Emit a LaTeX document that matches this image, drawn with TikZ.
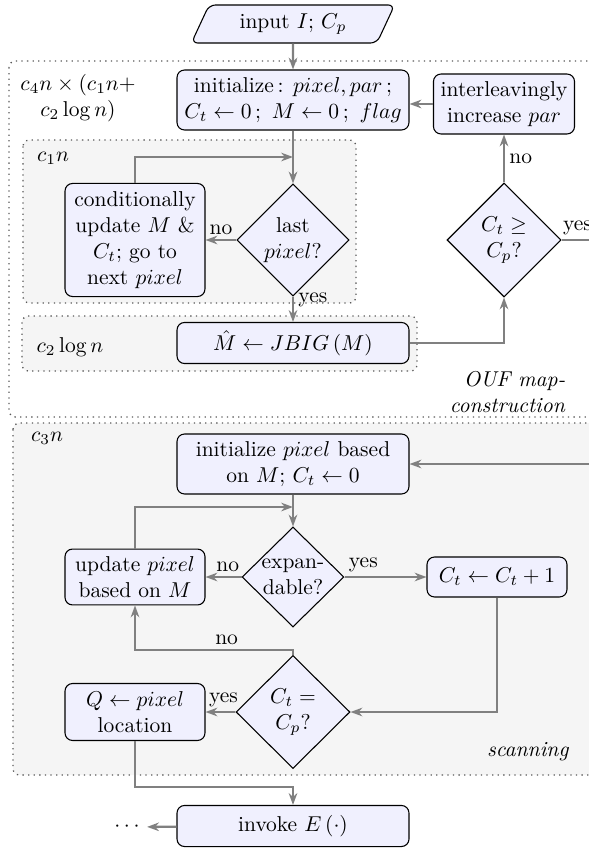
\documentclass[tikz,border=0pt]{standalone}
\usetikzlibrary{shapes.geometric, arrows.meta}
\definecolor{boxfill}{RGB}{240,240,254}
\definecolor{regfill}{RGB}{245,245,245}
\definecolor{linegray}{RGB}{128,128,128}
\begin{document}
\begin{tikzpicture}[x=0.4651pt, y=-0.4651pt,
  box/.style={draw=black, line width=0.5pt, rounded corners=3.5pt, fill=boxfill, align=center, inner sep=1pt},
  dia/.style={draw=black, line width=0.5pt, diamond, fill=boxfill, inner sep=0pt},
  dtext/.style={align=center, inner sep=0pt},
  region/.style={draw=black!65, dotted, line width=0.6pt, rounded corners=3pt, fill=regfill},
  flow/.style={draw=linegray, line width=1.1pt, -{Stealth[length=5.5pt,width=4pt]}},
  conn/.style={draw=linegray, line width=1.1pt},
  lbl/.style={inner sep=2pt}
]
\useasboundingbox (0,0) rectangle (589,850);
\clip (0,0) rectangle (589,850);

% regions
\draw[region, fill=none] (9,61) rectangle (640,417);
\draw[region] (23,140) rectangle (356,303);
\draw[region] (22,316) rectangle (417,371);
\draw[region] (13,423) rectangle (640,775);

% region labels
\node[align=center] (lc4) at (78,98) {$c_4n\times(c_1n+$\\$c_2\log n)$};
\node (lc1) at (53,158) {$c_1n$};
\node (lc2) at (70,347) {$c_2\log n$};
\node[anchor=east, align=right] (louf) at (573,392) {\textit{OUF map-}\\\textit{construction}};
\node (lc3) at (47,438) {$c_3n$};
\node (lscan) at (528,752) {\textit{scanning}};

% nodes
\node[trapezium, trapezium left angle=65, trapezium right angle=115, trapezium stretches=true,
      draw=black, line width=0.5pt, fill=boxfill, rounded corners=3pt,
      minimum width=94.9pt, minimum height=17.7pt, inner sep=1pt] (in) at (293,24) {input $I$; $C_p$};
\node[box, minimum width=107.9pt, minimum height=27.9pt] (init) at (293,100)
  {initialize\,: $pixel, par$\,;\\$C_t \leftarrow 0\,;\ M \leftarrow 0\,;\ flag$};
\node[box, minimum width=65.6pt, minimum height=27.9pt] (inter) at (504,104)
  {interleavingly\\increase $par$};
\node[box, minimum width=65.1pt, minimum height=52.6pt] (cond) at (135,240)
  {conditionally\\update $M$ \&\\$C_t$; go to\\next $pixel$};
\node[dia, minimum width=52.1pt, minimum height=52.1pt] (last) at (293,240) {};
\node[dtext] (lastt) at (last) {last\\$pixel$?};
\node[dia, minimum width=53pt, minimum height=53pt] (ge) at (504,240) {};
\node[dtext] (get) at (ge) {$C_t \geq$\\$C_p$?};
\node[box, minimum width=107.9pt, minimum height=19.1pt] (jbig) at (293,343)
  {$\hat{M} \leftarrow JBIG\,(M)$};

\node[box, minimum width=107.9pt, minimum height=27.9pt] (init2) at (293,464)
  {initialize $pixel$ based\\on $M$; $C_t \leftarrow 0$};
\node[dia, minimum width=47.4pt, minimum height=46.5pt] (exp) at (293,577) {};
\node[dtext] (expt) at (exp) {expan-\\dable?};
\node[box, minimum width=65.1pt, minimum height=26pt] (upd) at (135,577)
  {update $pixel$\\based on $M$};
\node[box, minimum width=65.1pt, minimum height=18.6pt] (inc) at (497,577)
  {$C_t \leftarrow C_t + 1$};
\node[dia, minimum width=53pt, minimum height=52.6pt] (eq) at (293,712) {};
\node[dtext] (eqt) at (eq) {$C_t =$\\$C_p$?};
\node[box, minimum width=65.1pt, minimum height=26.5pt] (q) at (135,712)
  {$Q \leftarrow pixel$\\location};
\node[box, minimum width=107.9pt, minimum height=19.1pt] (inv) at (293,826)
  {invoke $E\,(\cdot)$};
\node (dots) at (127,827) {$\cdots$};

% helper coordinates
\coordinate (m1) at (293,157);
\coordinate (m2) at (293,507);
\coordinate (n1) at (293,650);
\coordinate (b1) at (293,787);
\coordinate (R1) at (610,240);
\coordinate (R2) at (610,464);

% connectors
\draw[flow] (in) -- (init);
\draw[flow] (init) -- (last);
\draw[flow] (inter.west) -- (inter.west -| init.east);
\draw[flow] (last) -- node[lbl, above, pos=0.5] {no} (cond);
\draw[flow] (cond.north) |- (m1);
\draw[flow] (last) -- node[lbl, right, pos=0.15] {yes} (jbig);
\draw[flow] (jbig.east) -| (ge.south);
\draw[flow] (ge) -- node[lbl, right] {no} (inter);
\draw[conn] (ge.east) -- node[lbl, above, pos=0.33] {yes} (R1);

\draw[flow] (R2) -- (init2.east);
\draw[flow] (init2) -- (exp);
\draw[flow] (upd.north) |- (m2);
\draw[flow] (exp) -- node[lbl, above, pos=0.38] {no} (upd);
\draw[flow] (exp) -- node[lbl, above, pos=0.23] {yes} (inc);
\draw[flow] (inc.south) |- (eq.east);
\draw[flow] (eq.north) -- (n1) -| node[lbl, above, pos=0.21] {no} (upd.south);
\draw[flow] (eq) -- node[lbl, above, pos=0.4] {yes} (q);
\draw[flow] (q.south) |- (b1) -- (inv);
\draw[flow] (inv) -- (dots);
\end{tikzpicture}
\end{document}
